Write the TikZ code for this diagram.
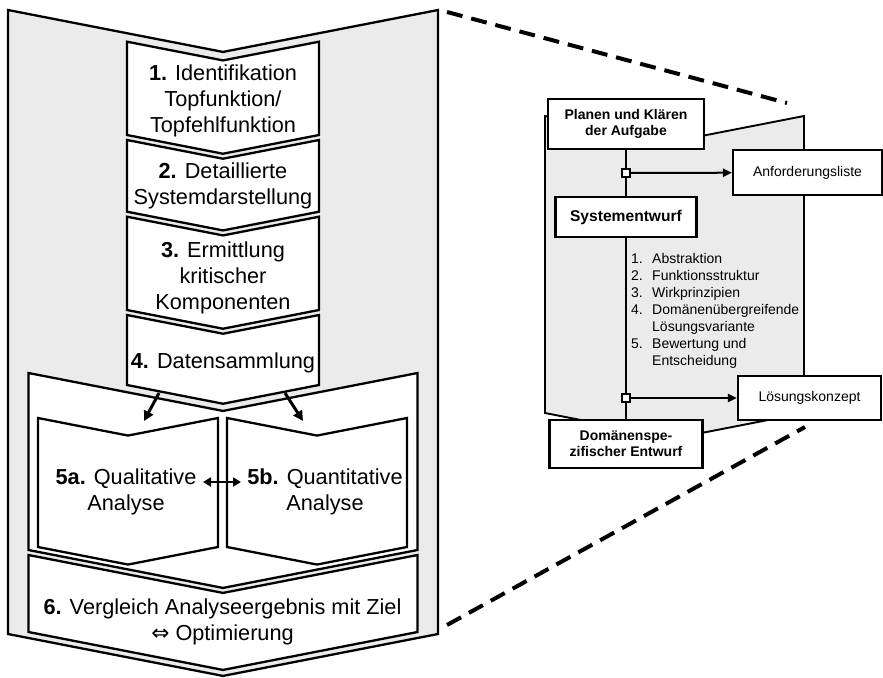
\documentclass[tikz,border=0pt]{standalone}
\usepackage{fontspec}
\setmainfont{Liberation Sans}
\newfontfamily\symbolfont{DejaVu Sans}
\usetikzlibrary{arrows.meta}
\definecolor{panelgray}{RGB}{235,235,235}

\tikzset{
  % chevron outline: left x, right x, top corner y, bottom corner y
  chevron/.style args={#1,#2,#3,#4}{insert path={
    (#1,#3) -- ({(#1+#2)/2},{#3+0.195*(#2-#1)/2}) -- (#2,#3) --
    (#2,#4) -- ({(#1+#2)/2},{#4+0.195*(#2-#1)/2}) -- (#1,#4) -- cycle}},
  panel/.style={draw=black, line width=2.3pt, fill=panelgray, line join=miter},
  subpanel/.style={draw=black, line width=1.9pt, fill=panelgray, line join=miter},
  stage/.style={draw=black, line width=2.3pt, fill=white, line join=miter},
  stagetext/.style={font=\fontsize{21.7}{26}\selectfont, align=center,
    inner sep=0pt, anchor=north},
  flowarrow/.style={line width=3pt, -{Triangle[length=10pt,width=10pt]}},
  swaparrow/.style={line width=2.8pt,
    {Triangle[length=8pt,width=9pt]}-{Triangle[length=8pt,width=9pt]}},
  phasebox/.style={draw=black, line width=2.2pt, fill=white, inner sep=0pt,
    align=center, font=\bfseries\fontsize{14}{16}\selectfont},
  resultbox/.style={draw=black, line width=2.2pt, fill=white, inner sep=0pt,
    align=center, font=\fontsize{14}{16}\selectfont},
  gate/.style={draw=black, line width=1.8pt, fill=white, inner sep=0pt,
    minimum size=8pt},
  trunk/.style={line width=2pt},
  output/.style={line width=2pt, -{Triangle[length=9pt,width=8pt]}},
  zoomline/.style={line width=4pt, dash pattern=on 16pt off 9pt}
}

\begin{document}
\begin{tikzpicture}[x=1pt, y=-1pt]
\useasboundingbox (0,0) rectangle (883,677);

% ---------- left: procedure as stacked chevrons ----------
\path[panel] [chevron={8,438,10,634}];
\path[stage] [chevron={127,319,41.7,135}];
\path[stage] [chevron={127,319,140,211.7}];
\path[stage] [chevron={127,319,216.7,310}];
\path[stage] [chevron={28.5,417.5,373,550}];
\path[stage] [chevron={127,319,315,385}];
\path[stage] [chevron={38,218,418,547}];
\path[stage] [chevron={227,407,418,547}];
\path[stage] [chevron={28.5,417.5,555,632}];

\node[stagetext] (s1) at (223,65) {\textbf{1.} Identifikation\\Topfunktion/\\Topfehlfunktion};
\node[stagetext] (s2) at (223,163) {\textbf{2.} Detaillierte\\Systemdarstellung};
\node[stagetext] (s3) at (223,241.5) {\textbf{3.} Ermittlung\\kritischer\\Komponenten};
\node[stagetext] (s4) at (223,353) {\textbf{4.} Datensammlung};
\node[stagetext] (s5a) at (126,469) {\textbf{5a.} Qualitative\\Analyse};
\node[stagetext] (s5b) at (325,469) {\textbf{5b.} Quantitative\\Analyse};
\node[stagetext] (s6) at (222.5,599) {\textbf{6.} Vergleich Analyseergebnis mit Ziel\\{\symbolfont ⇔} Optimierung};

% branching from data collection to the two analyses
\coordinate (d4l) at (159,393);
\coordinate (t5a) at (144,421);
\coordinate (d4r) at (285,393);
\coordinate (t5b) at (303,421);
\draw[flowarrow] (d4l) -- (t5a);
\draw[flowarrow] (d4r) -- (t5b);
\coordinate (qa) at (203,482);
\coordinate (qb) at (241,482);
\draw[swaparrow] (qa) -- (qb);

% ---------- right: design phase detail ----------
\path[subpanel] [chevron={545,804,116,413}];

\node[phasebox, minimum width=156pt, minimum height=50pt] (plan) at (626,124) {Planen und Klären\\der Aufgabe};
\node[phasebox, minimum width=141pt, minimum height=40pt,
      font=\bfseries\fontsize{15.6}{18}\selectfont] (sys) at (626,217) {Systementwurf};
\node[phasebox, minimum width=153pt, minimum height=48pt] (dom) at (626,444) {Domänenspe-\\zifischer Entwurf};
\node[resultbox, minimum width=149pt, minimum height=45pt] (anf) at (807.5,172.5) {Anforderungsliste};
\node[resultbox, minimum width=143pt, minimum height=44pt] (loes) at (809.5,398) {Lösungskonzept};
\node[gate] (g1) at (626,173) {};
\node[gate] (g2) at (626,398) {};

\draw[trunk] (plan) -- (g1) -- (sys) -- (g2) -- (dom);
\draw[output] (g1) -- (anf);
\draw[output] (g2) -- (loes);

\node[anchor=north west, inner sep=0pt, align=left,
      font=\fontsize{14}{17}\selectfont] (steps) at (631,253)
  {\makebox[21pt][l]{1.}Abstraktion\\
   \makebox[21pt][l]{2.}Funktionsstruktur\\
   \makebox[21pt][l]{3.}Wirkprinzipien\\
   \makebox[21pt][l]{4.}Domänenübergreifende\\
   \makebox[21pt][l]{}Lösungsvariante\\
   \makebox[21pt][l]{5.}Bewertung und\\
   \makebox[21pt][l]{}Entscheidung};

% ---------- magnification lines ----------
\coordinate (zt1) at (447,12);
\coordinate (zt2) at (787,103);
\coordinate (zb1) at (447,625);
\coordinate (zb2) at (805,427);
\draw[zoomline] (zt1) -- (zt2);
\draw[zoomline] (zb1) -- (zb2);
\end{tikzpicture}
\end{document}
